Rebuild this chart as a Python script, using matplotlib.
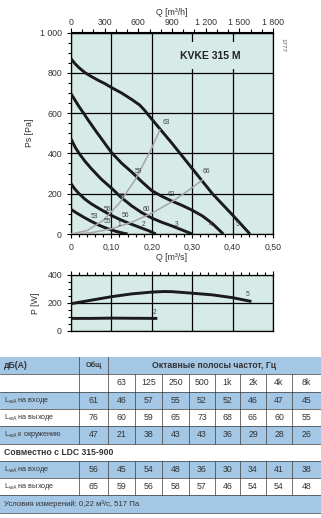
import numpy as np
import matplotlib
matplotlib.use('Agg')
import matplotlib.pyplot as plt
from matplotlib.patches import Rectangle

plt.rcParams['font.family'] = ['Liberation Sans', 'DejaVu Sans']

# fan curves, static pressure (Q in m3/s, Ps in Pa)
q1 = [0, 0.015, 0.03, 0.05, 0.07, 0.09, 0.11, 0.125, 0.14]
p1 = [122, 103, 85, 63, 43, 27, 14, 6, 0]
q2 = [0, 0.01, 0.02, 0.035, 0.05, 0.075, 0.1, 0.12, 0.14, 0.17, 0.19, 0.21]
p2 = [250, 222, 200, 172, 150, 120, 92, 73, 56, 33, 18, 0]
q3 = [0, 0.01, 0.02, 0.035, 0.05, 0.075, 0.1, 0.125, 0.15, 0.175, 0.2, 0.225, 0.25, 0.275, 0.3]
p3 = [472, 432, 400, 360, 325, 272, 228, 180, 140, 106, 79, 58, 40, 20, 0]
q4 = [0, 0.01, 0.02, 0.031, 0.042, 0.06, 0.08, 0.1, 0.125, 0.15, 0.175, 0.2, 0.225, 0.25,
      0.275, 0.3, 0.325, 0.35, 0.377]
p4 = [696, 664, 632, 600, 567, 515, 460, 405, 352, 308, 260, 215, 187, 163,
      142, 118, 90, 52, 0]
q5 = [0, 0.01, 0.02, 0.035, 0.05, 0.068, 0.085, 0.1, 0.125, 0.15, 0.17, 0.183, 0.2, 0.225,
      0.25, 0.3, 0.35, 0.4, 0.443]
p5 = [870, 845, 825, 800, 782, 762, 745, 727, 700, 668, 640, 612, 570, 510,
      450, 325, 200, 94, 0]

# system curves (grey)
qs1 = [0, 0.04, 0.08, 0.12, 0.16, 0.2, 0.22]
ps1 = [0, 17, 68, 154, 273, 427, 517]
qs2 = [0, 0.05, 0.1, 0.15, 0.2, 0.25, 0.3, 0.325]
ps2 = [0, 6, 26, 58, 103, 160, 230, 268]

# sound labels on the curves
snd_txt = ['63', '59', '58', '56', '53', '55', '56', '60', '62', '66']
snd_q = [0.237, 0.167, 0.124, 0.091, 0.059, 0.090, 0.134, 0.186, 0.248, 0.336]
snd_p = [551, 312, 188, 122, 89, 64, 91, 122, 198, 312]
num_txt = ['1', '2', '3', '4', '5']
num_q = [0.12, 0.179, 0.262, 0.347, 0.413]
num_p = [48, 48, 48, 48, 48]

# power curves
qw5 = [0, 0.05, 0.1, 0.15, 0.2, 0.23, 0.25, 0.3, 0.35, 0.4, 0.443]
pw5 = [195, 220, 245, 265, 278, 282, 281, 270, 258, 238, 213]
qw2 = [0, 0.05, 0.1, 0.15, 0.21]
pw2 = [90, 90, 92, 91, 90]

# sound table
freqs = ['63', '125', '250', '500', '1k', '2k', '4k', '8k']
row_names = ['на входе', 'на выходе', 'к окружению', 'на входе', 'на выходе']
row_tot = [61, 76, 47, 56, 65]
row_vals = [
    [46, 57, 55, 52, 52, 46, 47, 45],
    [60, 59, 65, 73, 68, 66, 60, 55],
    [21, 38, 43, 43, 36, 29, 28, 26],
    [45, 54, 48, 36, 30, 34, 41, 38],
    [59, 56, 58, 57, 46, 54, 54, 48],
]

W, H = 321, 518
fig = plt.figure(figsize=(W / 100, H / 100), dpi=100)

bg = '#d6ebe7'
dark = '#1a1a1a'
tc = '#333333'

def fx(px):
    return px / W

def fy(py):
    return 1 - py / H

# ---- main pressure chart
ax = fig.add_axes([fx(71), fy(234), fx(273) - fx(71), fy(32.5) - fy(234)])
ax.set_facecolor(bg)
ax.set_xlim(0, 0.5)
ax.set_ylim(0, 1000)
ax.set_xticks(np.arange(0, 0.51, 0.1))
ax.set_xticks(np.arange(0, 0.51, 0.02), minor=True)
ax.set_yticks(np.arange(0, 1001, 200))
ax.set_yticks(np.arange(0, 1001, 50), minor=True)
ax.set_xticklabels(['0', '0,10', '0,20', '0,30', '0,40', '0,50'])
ax.set_yticklabels(['0', '200', '400', '600', '800', '1 000'])
ax.tick_params(which='both', direction='out', labelsize=6.3, labelcolor=tc, width=0.8)
ax.tick_params(which='major', length=3)
ax.tick_params(which='minor', length=2)
ax.grid(True, which='major', color='black', lw=0.9)
for s in ax.spines.values():
    s.set_linewidth(0.9)

for q, p in [(q1, p1), (q2, p2), (q3, p3), (q4, p4), (q5, p5)]:
    ax.plot(q, p, color=dark, lw=2.1, solid_capstyle='butt', solid_joinstyle='round', zorder=3)
ax.plot(qs1, ps1, color='#a6a6a6', lw=1.1, zorder=4)
ax.plot(qs2, ps2, color='#a6a6a6', lw=1.1, zorder=4)

for t, q, p in zip(snd_txt, snd_q, snd_p):
    ax.text(q, p, t, fontsize=4.8, color='#444444', ha='center', va='center', zorder=5)
for t, q, p in zip(num_txt, num_q, num_p):
    ax.text(q, p, t, fontsize=4.8, color='#444444', ha='center', va='center', zorder=5)

ax.text(0.345, 885, 'KVKE 315 M', fontsize=7.5, fontweight='bold', color='#222222',
        ha='center', va='center', zorder=5,
        bbox=dict(facecolor=bg, edgecolor='none', pad=6))
ax.set_xlabel('Q [m³/s]', fontsize=6.3, color=tc, labelpad=1)
ax.set_ylabel('Ps [Pa]', fontsize=6.3, color=tc, labelpad=4)

top = ax.secondary_xaxis('top', functions=(lambda q: q * 3600, lambda v: v / 3600))
top.set_xticks(np.arange(0, 1801, 300))
top.set_xticks(np.arange(0, 1801, 100), minor=True)
top.set_xticklabels(['0', '300', '600', '900', '1 200', '1 500', '1 800'])
top.tick_params(which='both', direction='out', labelsize=6.3, labelcolor=tc, width=0.8, pad=1)
top.tick_params(which='major', length=3)
top.tick_params(which='minor', length=2)
top.set_xlabel('Q [m³/h]', fontsize=6.3, color=tc, labelpad=2)

fig.text(fx(283), fy(45), '1777', fontsize=4.5, color='#555555', rotation=270,
         ha='center', va='center')

# ---- power chart
axp = fig.add_axes([fx(71), fy(331), fx(273) - fx(71), fy(275) - fy(331)])
axp.set_facecolor(bg)
axp.set_xlim(0, 0.5)
axp.set_ylim(0, 400)
axp.set_xticks(np.arange(0, 0.51, 0.1))
axp.set_xticks(np.arange(0, 0.51, 0.02), minor=True)
axp.set_yticks([0, 200, 400])
axp.set_yticks(np.arange(0, 401, 50), minor=True)
axp.tick_params(which='both', direction='out', labelsize=6.3, labelcolor=tc, width=0.8,
                bottom=False, top=True, labelbottom=False)
axp.tick_params(which='major', length=3)
axp.tick_params(which='minor', length=2)
axp.grid(True, which='major', color='black', lw=0.9)
for s in axp.spines.values():
    s.set_linewidth(0.9)
axp.plot(qw5, pw5, color=dark, lw=2.1, zorder=3)
axp.plot(qw2, pw2, color=dark, lw=2.1, zorder=3)
axp.text(0.437, 262, '5', fontsize=4.8, color='#444444', ha='center', va='center')
axp.text(0.206, 130, '2', fontsize=4.8, color='#444444', ha='center', va='center')
axp.set_ylabel('P [W]', fontsize=6.3, color=tc, labelpad=5)

# ---- sound table
axt = fig.add_axes([0, fy(514), 1, fy(357) - fy(514)])
axt.set_xlim(0, W)
axt.set_ylim(514, 357)
axt.axis('off')

blue = '#a3c7e4'
cols = [0, 79, 108, 135, 162, 189, 215, 240, 266, 292, 321]
rh = 17.3
y0 = 357
line_c = '#3a3a3a'

def row_top(i):
    return y0 + i * rh

def band(i, color):
    if color:
        axt.add_patch(Rectangle((0, row_top(i)), W, rh, facecolor=color, edgecolor='none'))
    axt.plot([0, W], [row_top(i) + rh, row_top(i) + rh], color=line_c, lw=0.5)

def vlines(i, xs):
    for x in xs:
        axt.plot([x, x], [row_top(i), row_top(i) + rh], color=line_c, lw=0.5)

def mid(i):
    return row_top(i) + rh / 2

# header
band(0, blue)
vlines(0, [cols[1], cols[2]])
axt.text(4, mid(0), 'дБ(А)', fontsize=6.2, fontweight='bold', color=tc, va='center')
axt.text((cols[1] + cols[2]) / 2, mid(0), 'Общ', fontsize=5.2, fontweight='bold', color=tc,
         ha='center', va='center')
axt.text((cols[2] + W) / 2, mid(0), 'Октавные полосы частот, Гц', fontsize=6.2,
         fontweight='bold', color=tc, ha='center', va='center')

# frequency row
band(1, None)
vlines(1, cols[1:-1])
for j, f in enumerate(freqs):
    axt.text((cols[2 + j] + cols[3 + j]) / 2, mid(1), f, fontsize=6.3, color=tc,
             ha='center', va='center')

def data_row(i, name, tot, vals, color):
    band(i, color)
    vlines(i, cols[1:-1])
    axt.text(4, mid(i), r'L$_{\mathrm{wA}}$ ' + name, fontsize=5.2, color=tc, va='center')
    axt.text((cols[1] + cols[2]) / 2, mid(i), str(tot), fontsize=6.3, color=tc,
             ha='center', va='center')
    for j, v in enumerate(vals):
        axt.text((cols[2 + j] + cols[3 + j]) / 2, mid(i), str(v), fontsize=6.3, color=tc,
                 ha='center', va='center')

data_row(2, row_names[0], row_tot[0], row_vals[0], blue)
data_row(3, row_names[1], row_tot[1], row_vals[1], None)
data_row(4, row_names[2], row_tot[2], row_vals[2], blue)

band(5, None)
axt.text(4, mid(5), 'Совместно с LDC 315-900', fontsize=6.2, fontweight='bold', color=tc,
         va='center')

data_row(6, row_names[3], row_tot[3], row_vals[3], blue)
data_row(7, row_names[4], row_tot[4], row_vals[4], None)

band(8, blue)
axt.text(4, mid(8), 'Условия измерений: 0,22 м³/с, 517 Па', fontsize=5.6, color=tc,
         va='center')

fig.savefig('out.png', dpi=100)
